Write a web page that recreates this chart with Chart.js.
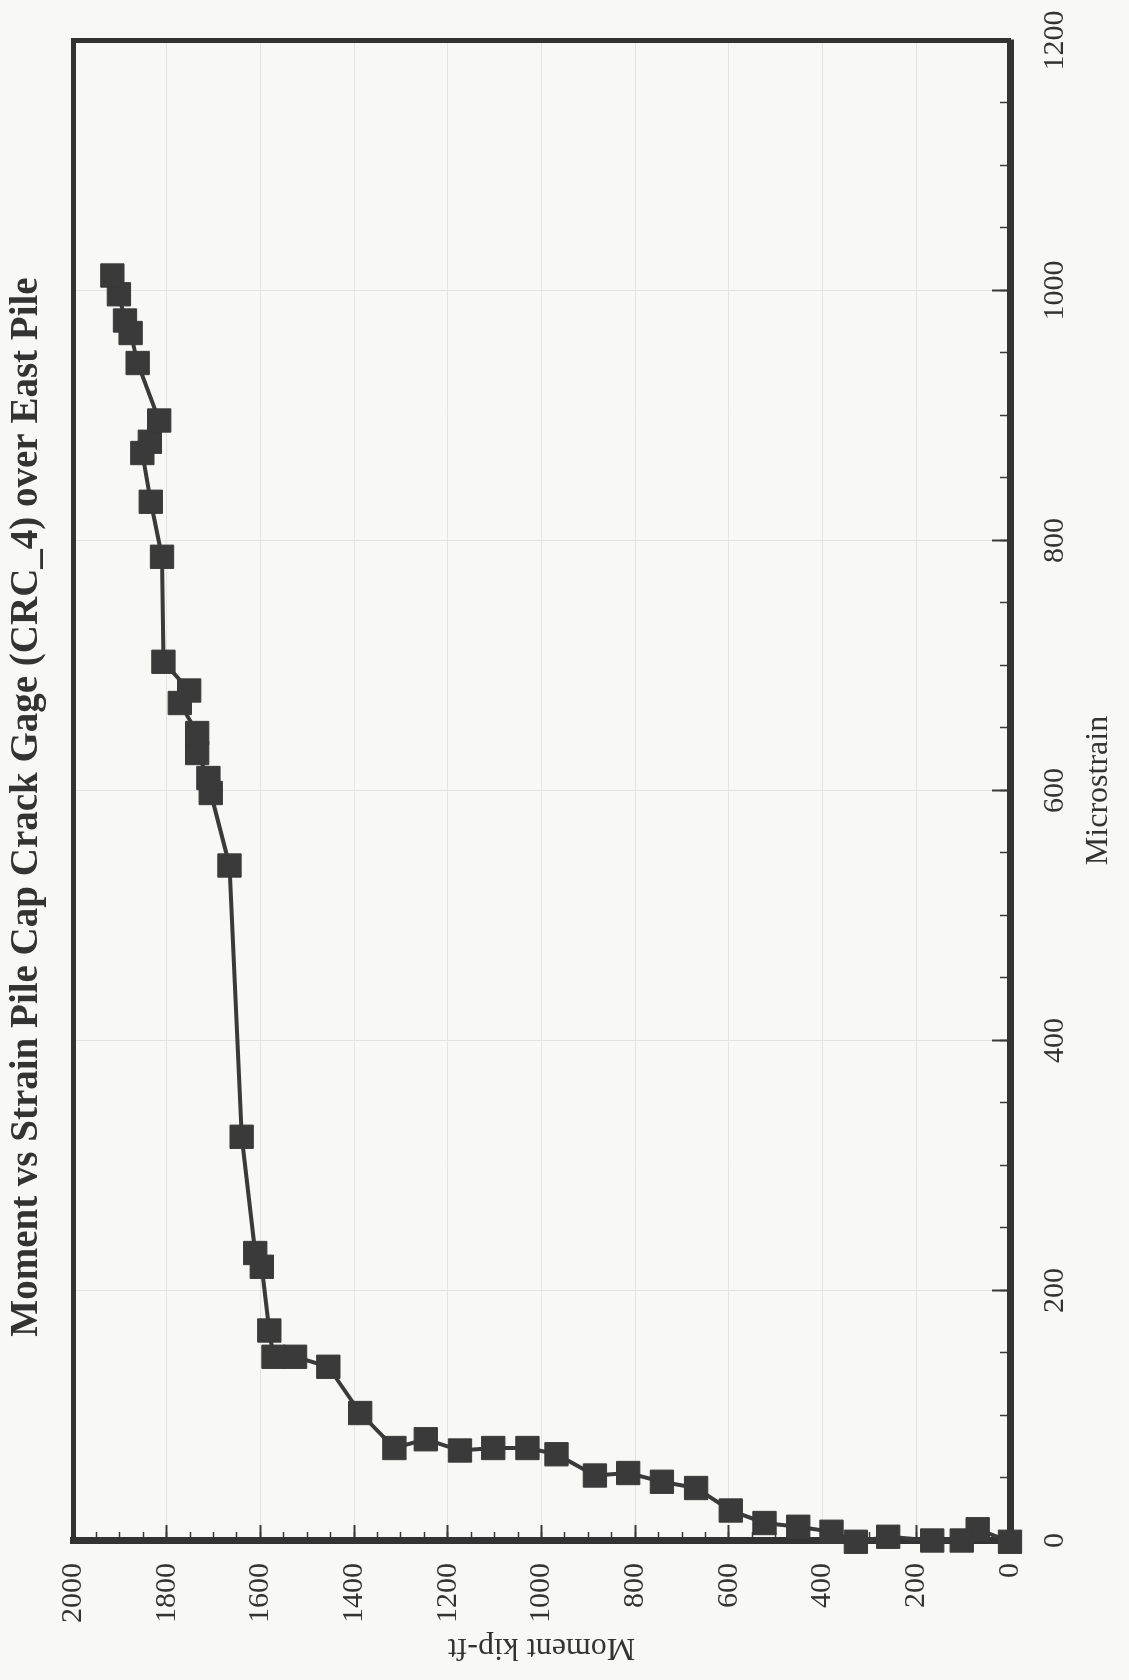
<!DOCTYPE html>
<html>
<head>
<meta charset="utf-8">
<script src="https://cdn.jsdelivr.net/npm/chart.js@4/dist/chart.umd.min.js"></script>
<style>
  html, body { margin: 0; padding: 0; background: #f8f8f6; overflow: hidden; width: 1129px; height: 1680px; }
  /* the chart is laid out landscape and turned a quarter turn onto the portrait page */
  #frame { position: absolute; left: 0; top: 0; width: 1746px; height: 1129px;
           transform-origin: 0 0; transform: translate(0, 1680px) rotate(-90deg); }
  canvas { display: block; }
</style>
</head>
<body>
<div id="frame"><canvas id="chart" width="1746" height="1129"></canvas></div>
<script>
// Crack gage CRC_4 readings, in load order
const microstrain = [-1, 9, 0, 0, 3, -1, 7, 11, 14, 24, 42, 47, 54, 52, 69, 74, 74, 72, 81, 74,
  102, 139, 147, 147, 168, 219, 230, 323, 540, 598, 610, 630, 646, 670, 680, 703,
  787, 831, 870, 879, 896, 942, 966, 976, 997, 1012];
const momentKipFt = [0, 69, 103, 166, 260, 329, 381, 452, 524, 596, 670, 743, 815, 886, 968, 1030, 1103, 1174, 1247, 1314,
  1387, 1455, 1526, 1572, 1581, 1597, 1611, 1640, 1666, 1706, 1711, 1735, 1735, 1772, 1752, 1807,
  1810, 1834, 1852, 1836, 1816, 1862, 1877, 1889, 1902, 1916];

const strainTicks = [0, 200, 400, 600, 800, 1000, 1200];
const momentTicks = [0, 200, 400, 600, 800, 1000, 1200, 1400, 1600, 1800, 2000];

const titleText = 'Moment vs Strain Pile Cap Crack Gage (CRC_4) over East Pile';
const xTitle = 'Microstrain';
const yTitle = 'Moment kip-ft';

const INK = '#3a3a3a';
const CANVAS_W = 1746, CANVAS_H = 1129;
const AREA = { left: 139.5, right: 1639.5, top: 73, bottom: 1010 };

Chart.defaults.font.family = "'Liberation Serif', 'Times New Roman', serif";
Chart.defaults.color = '#333';

const setTicks = values => scale => { scale.ticks = values.map(v => ({ value: v })); };

const ctx = document.getElementById('chart').getContext('2d');
new Chart(ctx, {
  type: 'line',
  data: {
    datasets: [{
      data: microstrain.map((s, i) => ({ x: s, y: momentKipFt[i] })),
      xAxisID: 'x',
      yAxisID: 'y',
      borderColor: INK,
      borderWidth: 4,
      tension: 0,
      pointStyle: 'rect',
      pointRadius: 16.5,
      pointBackgroundColor: INK,
      pointBorderColor: INK,
      pointBorderWidth: 1,
      clip: false
    }]
  },
  options: {
    responsive: false,
    animation: false,
    events: [],
    layout: { padding: 0 },
    plugins: {
      legend: { display: false },
      tooltip: { enabled: false },
      title: {
        display: true,
        text: titleText,
        color: '#333',
        font: { size: 39, weight: 'bold' },
        padding: { top: 3.6, bottom: 22.6 }
      }
    },
    scales: {
      x: {
        type: 'linear', axis: 'x', position: 'bottom', weight: 0,
        min: 0, max: 1200,
        afterBuildTicks: setTicks(strainTicks),
        afterFit: s => { s.height = CANVAS_H - AREA.bottom; },
        border: { display: true, color: '#333', width: 7 },
        grid: { color: '#e4e4e2', lineWidth: 1, drawTicks: true, tickLength: -18, tickColor: INK, tickWidth: 2 },
        ticks: { maxRotation: 0, minRotation: 0, padding: 45, color: '#333', font: { size: 30 },
                 callback: v => String(v) },
        title: { display: true, text: xTitle, color: '#333', font: { size: 32 }, padding: { top: 0, bottom: 10.8 } }
      },
      xMinor: {
        type: 'linear', axis: 'x', position: 'bottom', weight: -1,
        min: 0, max: 1200,
        ticks: { display: false, stepSize: 50 },
        afterFit: s => { s.height = 0; },
        border: { display: false },
        grid: { drawOnChartArea: false, drawTicks: true, tickLength: -10, tickColor: INK, tickWidth: 1.5 }
      },
      xTop: {
        type: 'linear', axis: 'x', position: 'top',
        min: 0, max: 1200,
        ticks: { display: false },
        afterFit: s => { s.height = 0; },
        border: { display: true, color: '#333', width: 5 },
        grid: { display: false }
      },
      y: {
        type: 'linear', axis: 'y', position: 'left', weight: 0,
        min: 0, max: 2000,
        afterBuildTicks: setTicks(momentTicks),
        afterFit: s => { s.width = AREA.left; },
        border: { display: true, color: '#333', width: 7 },
        grid: { color: '#e4e4e2', lineWidth: 1, drawTicks: true, tickLength: -15.5, tickColor: INK, tickWidth: 2 },
        ticks: { padding: 38, color: '#333', font: { size: 30 }, callback: v => String(v) },
        title: { display: true, text: yTitle, color: '#333', font: { size: 32 }, padding: { top: 13.8, bottom: 0 } }
      },
      yMinor: {
        type: 'linear', axis: 'y', position: 'left', weight: -1,
        min: 0, max: 2000,
        ticks: { display: false, stepSize: 50 },
        afterFit: s => { s.width = 0; },
        border: { display: false },
        grid: { drawOnChartArea: false, drawTicks: true, tickLength: -8.5, tickColor: INK, tickWidth: 1.5 }
      },
      yRight: {
        type: 'linear', axis: 'y', position: 'right',
        min: 0, max: 2000,
        ticks: { display: false },
        afterFit: s => { s.width = CANVAS_W - AREA.right; },
        border: { display: true, color: '#333', width: 5 },
        grid: { display: false }
      }
    }
  }
});
</script>
</body>
</html>
